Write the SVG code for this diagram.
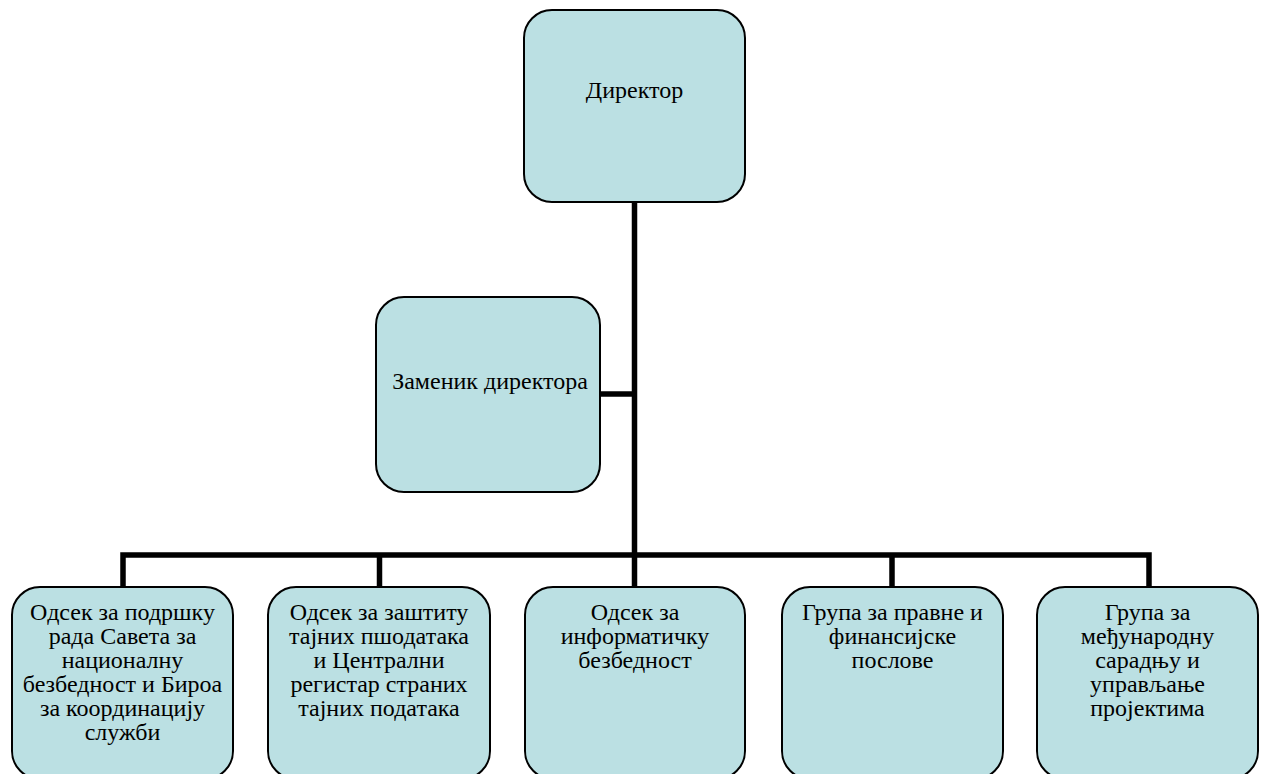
<svg xmlns="http://www.w3.org/2000/svg" width="1261" height="774" viewBox="0 0 1261 774">
<style>
.box{fill:#BBE0E3;stroke:#000;stroke-width:2}
.t{font-family:"Liberation Serif","DejaVu Serif",serif;font-size:24px;fill:#000;text-anchor:middle}
.c{fill:none;stroke:#000;stroke-width:5.5;stroke-linecap:butt;stroke-linejoin:miter}
</style>
<rect width="1261" height="774" fill="#fff"/>
<g id="connectors">
<path class="c" d="M634.5 202V555"/>
<path class="c" d="M600 394H634.5"/>
<path class="c" d="M123 587V555H1149V587"/>
<path class="c" d="M379.5 555V587"/>
<path class="c" d="M634.5 555V587"/>
<path class="c" d="M892 555V587"/>
</g>
<g id="director">
<rect class="box" x="524" y="10" width="221" height="192" rx="28"/>
<text class="t" x="634.5" y="98">Директор</text>
</g>
<g id="deputy">
<rect class="box" x="376" y="297" width="224" height="195" rx="28"/>
<text class="t" x="490" y="389">Заменик директора</text>
</g>
<g id="n1">
<rect class="box" x="12" y="587" width="221" height="192" rx="28"/>
<text class="t" x="122.5" y="620">Одсек за подршку</text>
<text class="t" x="122.5" y="644">рада Савета за</text>
<text class="t" x="122.5" y="668">националну</text>
<text class="t" x="122.5" y="692">безбедност и Бироа</text>
<text class="t" x="122.5" y="716">за координацију</text>
<text class="t" x="122.5" y="740">служби</text>
</g>
<g id="n2">
<rect class="box" x="268" y="587" width="222" height="192" rx="28"/>
<text class="t" x="379" y="620">Одсек за заштиту</text>
<text class="t" x="379" y="644">тајних пшодатака</text>
<text class="t" x="379" y="668">и Централни</text>
<text class="t" x="379" y="692">регистар страних</text>
<text class="t" x="379" y="716">тајних података</text>
</g>
<g id="n3">
<rect class="box" x="525" y="587" width="220" height="192" rx="28"/>
<text class="t" x="635" y="620">Одсек за</text>
<text class="t" x="635" y="644">информатичку</text>
<text class="t" x="635" y="668">безбедност</text>
</g>
<g id="n4">
<rect class="box" x="782" y="587" width="221" height="192" rx="28"/>
<text class="t" x="892.5" y="620">Група за правне и</text>
<text class="t" x="892.5" y="644">финансијске</text>
<text class="t" x="892.5" y="668">послове</text>
</g>
<g id="n5">
<rect class="box" x="1037" y="587" width="221" height="192" rx="28"/>
<text class="t" x="1147.5" y="620">Група за</text>
<text class="t" x="1147.5" y="644">међународну</text>
<text class="t" x="1147.5" y="668">сарадњу и</text>
<text class="t" x="1147.5" y="692">управљање</text>
<text class="t" x="1147.5" y="716">пројектима</text>
</g>
</svg>
